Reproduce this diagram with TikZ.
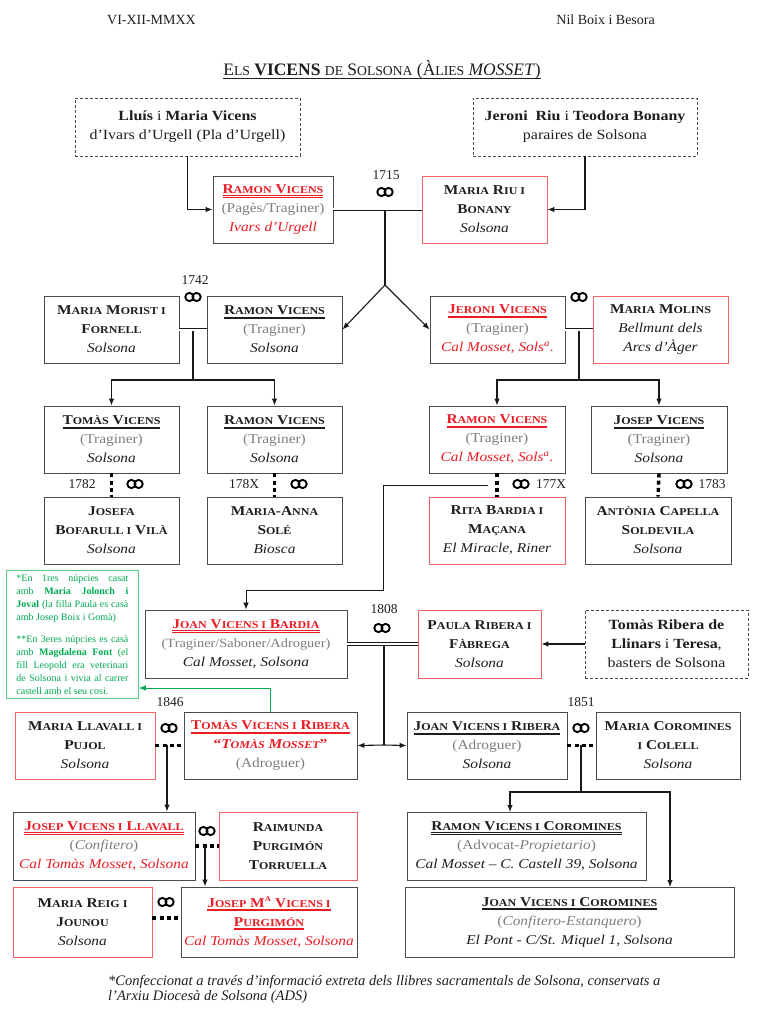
\documentclass[tikz,border=0pt]{standalone}
\usepackage{fontspec}
\setmainfont{Liberation Serif}
\newfontfamily\bxfont{Liberation Serif}[FakeStretch=1.14]
\usetikzlibrary{arrows.meta}
\definecolor{tred}{RGB}{235,28,36}
\definecolor{bred}{RGB}{240,100,100}
\definecolor{tgray}{RGB}{125,125,125}
\definecolor{tdark}{RGB}{30,30,30}
\definecolor{bdr}{RGB}{75,75,75}
\definecolor{lnk}{RGB}{25,25,25}
\definecolor{tgreen}{RGB}{0,170,80}
\definecolor{bgreen}{RGB}{90,205,130}
\makeatletter
\newcommand\lc[1]{{\fontsize{\strip@pt\dimexpr 0.78\dimexpr\f@size pt\relax\relax}{0}\selectfont #1}}
\makeatother
\newcommand\dul[1]{\leavevmode\setbox0=\hbox{#1}\rlap{\raisebox{-2.6pt}{\rule{\wd0}{0.65pt}}}\rlap{\raisebox{-4pt}{\rule{\wd0}{0.65pt}}}\box0}
\newcommand\vn[1]{\dul{\textbf{#1}}}
\newcommand\vnr[1]{{\color{tred}\dul{\textbf{#1}}}}
\newcommand\spn[1]{{\bfseries #1}}
\newcommand\pl[1]{{\itshape #1}}
\newcommand\plr[1]{{\color{tred}\itshape #1}}
\newcommand\prof[1]{{\color{tgray}#1}}
\newcommand\bx[7]{\node[#6, minimum width={(#4)-(#2)}, minimum height={(#5)-(#3)}] (#1) at ({((#2)+(#4))/2},{((#3)+(#5))/2}) {#7};}
\newcommand\rings[2]{\draw[line width=1.9pt, draw=black] ({#1-3.6},#2) circle (4.1) ({#1+3.6},#2) circle (4.1);}
\tikzset{
 box/.style={draw=bdr, line width=0.9pt, align=center, inner sep=0pt, font=\bxfont\fontsize{13.5}{19}\selectfont, text=tdark},
 rbox/.style={box, draw=bred},
 dbox/.style={box, dash pattern=on 3pt off 2pt, font=\bxfont\fontsize{14}{19}\selectfont},
 arr/.style={draw=lnk, line width=1.1pt, -{Latex[length=7pt,width=5.5pt]}},
 ln/.style={draw=lnk, line width=1.1pt},
 dbl/.style={draw=lnk, double=white, double distance=2pt, line width=0.7pt},
 dots/.style={draw=black, line width=3.4pt, dash pattern=on 4pt off 3.2pt},
 yr/.style={font=\fontsize{13.5}{13.5}\selectfont, text=tdark, inner sep=0pt},
 garr/.style={draw=tgreen, line width=1pt, -{Latex[length=7pt,width=5.5pt]}},
}
\begin{document}
\begin{tikzpicture}[x=1pt,y=-1pt]
\fill[white] (0,0) rectangle (757,1024);
\useasboundingbox (0,0) rectangle (757,1024);
% header
\node[anchor=base west, inner sep=0pt, font=\fontsize{14}{14}\selectfont, text=tdark] (date) at (107,25) {VI-XII-MMXX};
\node[anchor=base east, inner sep=0pt, font=\fontsize{14}{14}\selectfont, text=tdark] (author) at (655,25) {Nil Boix i Besora};
\node[anchor=base, inner sep=0pt, font=\fontsize{17.5}{17.5}\selectfont, text=tdark] (title) at (382,76) {\setbox0=\hbox{E\lc{LS} \textbf{VICENS} \lc{DE} S\lc{OLSONA} (À\lc{LIES} \textit{MOSSET})}\rlap{\raisebox{-2.5pt}{\rule{\wd0}{0.7pt}}}\box0};
% boxes
\bx{lluis}{75}{98}{300}{156}{dbox}{\textbf{Lluís} i \textbf{Maria Vicens}\\d’Ivars d’Urgell (Pla d’Urgell)}
\bx{jriu}{473}{98}{697}{156}{dbox}{\textbf{Jeroni\ \ Riu} i \textbf{Teodora Bonany}\\paraires de Solsona}
\bx{ramon1}{213}{176}{333}{243}{box}{\vnr{R\lc{AMON} V\lc{ICENS}}\\\prof{(Pagès/Traginer)}\\\plr{Ivars d’Urgell}}
\bx{mriu}{422}{176}{547}{243}{rbox}{\spn{M\lc{ARIA} R\lc{IU I}}\\\spn{B\lc{ONANY}}\\\pl{Solsona}}
\bx{morist}{44}{296}{179}{363}{box}{\spn{M\lc{ARIA} M\lc{ORIST I}}\\\spn{F\lc{ORNELL}}\\\pl{Solsona}}
\bx{ramon2}{207}{296}{342}{363}{box}{\vn{R\lc{AMON} V\lc{ICENS}}\\\prof{(Traginer)}\\\pl{Solsona}}
\bx{jeroni2}{430}{296}{565}{363}{box}{\vnr{J\lc{ERONI} V\lc{ICENS}}\\\prof{(Traginer)}\\\plr{Cal Mosset, Sols\textsuperscript{a}.}}
\bx{molins}{593}{296}{728}{363}{rbox}{\spn{M\lc{ARIA} M\lc{OLINS}}\\\pl{Bellmunt dels}\\\pl{Arcs d’Àger}}
\bx{tomas3}{44}{406}{179}{473}{box}{\vn{T\lc{OMÀS} V\lc{ICENS}}\\\prof{(Traginer)}\\\pl{Solsona}}
\bx{ramon3l}{207}{406}{342}{473}{box}{\vn{R\lc{AMON} V\lc{ICENS}}\\\prof{(Traginer)}\\\pl{Solsona}}
\bx{ramon3r}{429}{406}{565}{473}{box}{\vnr{R\lc{AMON} V\lc{ICENS}}\\\prof{(Traginer)}\\\plr{Cal Mosset, Sols\textsuperscript{a}.}}
\bx{josep3}{591}{406}{727}{473}{box}{\vn{J\lc{OSEP} V\lc{ICENS}}\\\prof{(Traginer)}\\\pl{Solsona}}
\bx{josefa}{44}{497}{179}{564}{box}{\spn{J\lc{OSEFA}}\\\spn{B\lc{OFARULL I} V\lc{ILÀ}}\\\pl{Solsona}}
\bx{sole}{207}{497}{342}{564}{box}{\spn{M\lc{ARIA}-A\lc{NNA}}\\\spn{S\lc{OLÉ}}\\\pl{Biosca}}
\bx{rita}{429}{497}{565}{564}{rbox}{\spn{R\lc{ITA} B\lc{ARDIA I}}\\\spn{M\lc{AÇANA}}\\\pl{El Miracle, Riner}}
\bx{antonia}{585}{497}{731}{564}{box}{\spn{A\lc{NTÒNIA} C\lc{APELLA}}\\\spn{S\lc{OLDEVILA}}\\\pl{Solsona}}
\bx{joan5}{145}{610}{347}{678}{box}{\vnr{J\lc{OAN} V\lc{ICENS I} B\lc{ARDIA}}\\\prof{\fontsize{12.6}{19}\selectfont(Traginer/Saboner/Adroguer)}\\\pl{Cal Mosset, Solsona}}
\bx{paula}{418}{610}{541}{678}{rbox}{\spn{P\lc{AULA} R\lc{IBERA I}}\\\spn{F\lc{ÀBREGA}}\\\pl{Solsona}}
\bx{tomasR}{585}{610}{748}{678}{dbox}{\textbf{Tomàs Ribera de}\\\textbf{Llinars} i \textbf{Teresa},\\basters de Solsona}
\bx{llavall}{15}{712}{155}{779}{rbox}{\spn{M\lc{ARIA} L\lc{LAVALL I}}\\\spn{P\lc{UJOL}}\\\pl{Solsona}}
\bx{tomasVR}{184}{712}{357}{779}{box}{\vnr{T\lc{OMÀS} V\lc{ICENS I} R\lc{IBERA}}\\{\color{tred}\bfseries“{\itshape T\lc{OMÀS} M\lc{OSSET}}”}\\\prof{(Adroguer)}}
\bx{joanVR}{407}{712}{567}{779}{box}{\vn{J\lc{OAN} V\lc{ICENS I} R\lc{IBERA}}\\\prof{(Adroguer)}\\\pl{Solsona}}
\bx{coromines}{596}{712}{740}{779}{box}{\spn{M\lc{ARIA} C\lc{OROMINES}}\\\spn{\lc{I} C\lc{OLELL}}\\\pl{Solsona}}
\bx{josepLl}{13}{812}{195}{880}{box}{\vnr{J\lc{OSEP} V\lc{ICENS I} L\lc{LAVALL}}\\\prof{(\textit{Confitero})}\\\plr{Cal Tomàs Mosset, Solsona}}
\bx{raimunda}{219}{812}{357}{880}{rbox}{\spn{R\lc{AIMUNDA}}\\\spn{P\lc{URGIMÓN}}\\\spn{T\lc{ORRUELLA}}}
\bx{ramonVC}{407}{812}{646}{880}{box}{\vn{R\lc{AMON} V\lc{ICENS I} C\lc{OROMINES}}\\\prof{(Advocat-\textit{Propietario})}\\\pl{Cal Mosset – C. Castell 39, Solsona}}
\bx{reig}{13}{887}{152}{957}{rbox}{\spn{M\lc{ARIA} R\lc{EIG I}}\\\spn{J\lc{OUNOU}}\\\pl{Solsona}}
\bx{josepM}{181}{887}{357}{957}{box}{\vnr{J\lc{OSEP} M\textsuperscript{\lc{A}} V\lc{ICENS I}}\\\vnr{P\lc{URGIMÓN}}\\\plr{Cal Tomàs Mosset, Solsona}}
\bx{joanVC}{405}{887}{734}{957}{box}{\vn{J\lc{OAN} V\lc{ICENS I} C\lc{OROMINES}}\\\prof{(\textit{Confitero-Estanquero})}\\\pl{El Pont - C/St. Miquel 1, Solsona}}
% note
\node[draw=bgreen, line width=0.8pt, text=tgreen, anchor=north west, text width=112pt, inner xsep=10pt, inner ysep=4pt, align=justify, font=\fontsize{10}{13}\selectfont] (note) at (6,570) {\tolerance=9999\hbadness=10000 *En 1res núpcies casat\linebreak amb \textbf{Maria Jolonch i}\linebreak \textbf{Joval} (la filla Paula es casà\linebreak amb Josep Boix i Gomà)\par\vspace{9pt}**En 3eres núpcies es casà\linebreak amb \textbf{Magdalena Font} (el\linebreak fill Leopold era veterinari\linebreak de Solsona i vivia al carrer\linebreak castell amb el seu cosi.};
% footer
\node[anchor=north west, inner sep=0pt, font=\fontsize{14.5}{15.5}\selectfont\itshape, text=tdark, align=left] (foot) at (108,975) {*Confeccionat a través d’informació extreta dels llibres sacramentals de Solsona, conservats a\\l’Arxiu Diocesà de Solsona (ADS)};
% generation 1
\draw[arr] (lluis.south) |- (ramon1.west);
\draw[arr] (jriu.south) |- (mriu.east);
\draw[dbl] (ramon1.east) -- (mriu.west);
\coordinate (m1) at (385,211);
\coordinate (s1) at (385,285);
\draw[ln] (m1) -- (s1);
\draw[arr] (s1) -- (ramon2.east);
\draw[arr] (s1) -- (jeroni2.west);
\node[yr] (y1715) at (386,175) {1715};
\rings{385}{192}
% generation 2
\draw[dbl] (morist.east) -- (ramon2.west);
\coordinate (m2l) at (193,331);
\coordinate (j2l) at (193,380);
\draw[ln] (m2l) -- (j2l);
\draw[arr] (j2l) -| (tomas3.north);
\draw[arr] (j2l) -| (ramon3l.north);
\node[yr] (y1742) at (195,280) {1742};
\rings{193}{297}
\draw[dbl] (jeroni2.east) -- (molins.west);
\coordinate (m2r) at (579,331);
\coordinate (j2r) at (579,380);
\draw[ln] (m2r) -- (j2r);
\draw[arr] (j2r) -| (ramon3r.north);
\draw[arr] (j2r) -| (josep3.north);
\rings{579}{297}
% generation 3
\draw[dots] (tomas3.south) -- (josefa.north);
\draw[dots] (ramon3l.south) -- (sole.north);
\draw[dots] (ramon3r.south) -- (rita.north);
\draw[dots] (josep3.south) -- (antonia.north);
\node[yr] (y1782) at (82,484) {1782};
\rings{135}{484}
\node[yr] (y178X) at (244,484) {178X};
\rings{299}{484}
\node[yr] (y177X) at (551,484) {177X};
\rings{521}{484}
\node[yr] (y1783) at (712,484) {1783};
\rings{684}{484}
\coordinate (r1) at (488,485);
\coordinate (r2) at (383,590);
\draw[arr, line width=0.8pt] (r1) -| (r2) -| (joan5.north);
% generation 4
\draw[arr] (tomasR.west) -- (paula.east);
\draw[dbl] (joan5.east) -- (paula.west);
\coordinate (m5) at (384,645);
\coordinate (j5) at (384,745);
\draw[ln] (m5) -- (j5);
\draw[arr] (j5) -- (tomasVR.east);
\draw[arr] (j5) -- (joanVR.west);
\node[yr] (y1808) at (384,609) {1808};
\rings{382}{628}
\coordinate (gt) at (200,688);
\draw[garr] (tomasVR.north) |- (note.east |- gt);
% generation 5
\draw[dots] (llavall.east) -- (tomasVR.west);
\coordinate (m6l) at (167,745);
\draw[arr] (m6l) -- (m6l |- josepLl.north);
\node[yr] (y1846) at (170,702) {1846};
\rings{169}{728}
\draw[dots] (joanVR.east) -- (coromines.west);
\coordinate (m6r) at (581,745);
\coordinate (j6r) at (581,792);
\coordinate (t7r) at (510,812);
\coordinate (t8r) at (670,887);
\draw[ln] (m6r) -- (j6r);
\draw[arr] (j6r) -| (t7r);
\draw[arr] (j6r) -| (t8r);
\node[yr] (y1851) at (581,702) {1851};
\rings{581}{728}
% generation 6
\draw[dots] (josepLl.east) -- (raimunda.west);
\coordinate (m7) at (205,846);
\draw[arr] (m7) -- (m7 |- josepM.north);
\rings{207}{831}
\coordinate (m8) at (166,918);
\draw[dots] (reig.east |- m8) -- (josepM.west |- m8);
\rings{166}{902}
\end{tikzpicture}
\end{document}
